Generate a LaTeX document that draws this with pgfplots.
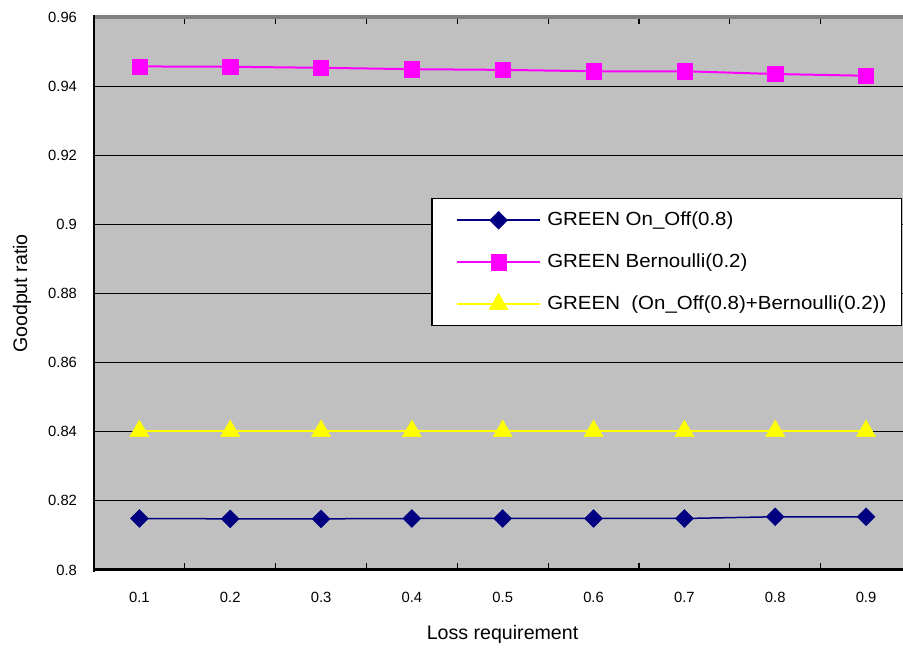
\documentclass[border=0pt]{standalone}
\usepackage{fontspec}
\setmainfont{Liberation Sans}
\newfontfamily\legfont[FakeStretch=1.077]{Liberation Sans}
\usepackage{pgfplots}
\pgfplotsset{compat=1.18}
\definecolor{plotgray}{RGB}{192,192,192}
\definecolor{bordergray}{RGB}{128,128,128}
\definecolor{navyb}{RGB}{0,0,128}
\definecolor{magb}{RGB}{255,0,255}
\definecolor{yelb}{RGB}{255,255,0}
\begin{document}
\begin{tikzpicture}
\begin{axis}[
  at={(0pt,0pt)}, anchor=south west,
  scale only axis, width=809pt, height=553pt,
  xmin=0.5, xmax=9.407, ymin=0.8, ymax=0.96,
  clip=false,
  axis background/.style={fill=plotgray},
  axis line style={draw=none},
  xtick={1,2,3,4,5,6,7,8,9},
  xticklabels={0.1,0.2,0.3,0.4,0.5,0.6,0.7,0.8,0.9},
  major x tick style={draw=none},
  minor xtick={1.5,2.5,3.5,4.5,5.5,6.5,7.5,8.5},
  minor x tick style={black, line width=1.2pt},
  minor tick length=7pt,
  ytick={0.8,0.82,0.84,0.86,0.88,0.9,0.92,0.94,0.96},
  yticklabels={0.8,0.82,0.84,0.86,0.88,0.9,0.92,0.94,0.96},
  major y tick style={black, line width=1pt},
  major tick length=7pt,
  tick align=inside,
  ymajorgrids,
  major grid style={black, line width=0.9pt},
  /pgf/number format/assume math mode=true,
  tick label style={font=\fontsize{14.8}{16}\selectfont},
  yticklabel style={xshift=-13.5pt},
  xticklabel style={yshift=-18.5pt},
  xlabel={Loss requirement},
  ylabel={Goodput ratio},
  label style={font=\fontsize{19.6}{22}\selectfont},
  xlabel style={at={(axis description cs:0.505,-0.1157)}, anchor=center},
  ylabel style={at={(axis description cs:-0.0890,0.5)}, anchor=center},
  legend cell align=left,
  legend style={at={(rel axis cs:0.4166,0.6727)}, anchor=north west,
    draw=black, line width=1.5pt, fill=white,
    font=\legfont\fontsize{19}{22}\selectfont,
    inner xsep=12pt, inner ysep=10.5pt, row sep=20pt, column sep=3pt,
    nodes={inner xsep=3pt, inner ysep=2pt, text height=14pt, text depth=4pt}},
  legend image code/.code={
    \path (0pt,0pt);
    \draw[mark repeat=2,mark phase=2] plot coordinates {(12pt,0pt) (53.5pt,0pt) (95pt,0pt)};
  },
]
\addplot[color=navyb, line width=1.5pt, mark=square*, mark size=6.3pt,
  mark options={rotate=45, line width=0.5pt, fill=navyb, draw=navyb}]
  coordinates {(1,0.8149) (2,0.8148) (3,0.8148) (4,0.8149) (5,0.8149) (6,0.8149) (7,0.8149) (8,0.8154) (9,0.8154)};
\addlegendentry{GREEN On\_Off(0.8)}
\addplot[color=magb, line width=2pt, mark=square*, mark size=7.6pt,
  mark options={rounded corners=2pt, line width=0.5pt, fill=magb, draw=magb}]
  coordinates {(1,0.9457) (2,0.9456) (3,0.9453) (4,0.9449) (5,0.9447) (6,0.9443) (7,0.9443) (8,0.9435) (9,0.9430)};
\addlegendentry{GREEN Bernoulli(0.2)}
\addplot[color=yelb, line width=2.5pt, mark=triangle*, mark size=11pt,
  mark options={line width=0.5pt, fill=yelb, draw=yelb}]
  coordinates {(1,0.8402) (2,0.8402) (3,0.8402) (4,0.8402) (5,0.8402) (6,0.8402) (7,0.8402) (8,0.8402) (9,0.8402)};
\addlegendentry{GREEN\ \ (On\_Off(0.8)+Bernoulli(0.2))}
\draw[bordergray, line width=3.5pt] (rel axis cs:0,1) -- (rel axis cs:1,1);
\draw[black, line width=3pt] (rel axis cs:0,0) -- (rel axis cs:1,0);
\draw[black, line width=2.5pt] (rel axis cs:0,-0.003) -- (rel axis cs:0,1.003);
\end{axis}
\pgfresetboundingbox
\path[use as bounding box] (-94pt,-82pt) rectangle (809pt,570pt);
\end{tikzpicture}
\end{document}
